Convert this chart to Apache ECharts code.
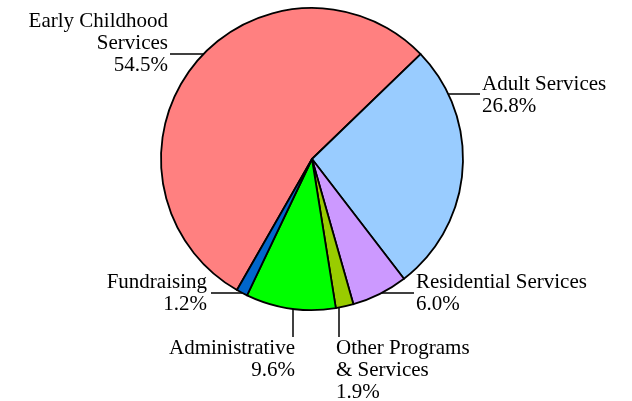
<!DOCTYPE html>
<html>
<head>
<meta charset="utf-8">
<script src="https://cdn.jsdelivr.net/npm/echarts@6/dist/echarts.min.js"></script>
<style>
  html, body { margin: 0; padding: 0; background: #fff; }
  #chart { width: 632px; height: 401px; }
</style>
</head>
<body>
<div id="chart"></div>
<script>
// data
const categories = ['Early Childhood\nServices', 'Adult Services', 'Residential Services',
  'Other Programs\n& Services', 'Administrative', 'Fundraising'];
const shares = [54.5, 26.8, 6.0, 1.9, 9.6, 1.2];
const colors = ['#FF8080', '#99CCFF', '#CC99FF', '#99CC00', '#00FF00', '#0066CC'];

// pie geometry
const cx = 312, cy = 159, r = 151;

// label placement: anchor x, middle y, align, line end, line direction
const labelSpots = [
  { x: 168, y: 43, align: 'right', end: [170, 54], dir: 'h' },
  { x: 482, y: 95, align: 'left', end: [480, 94], dir: 'h' },
  { x: 416, y: 293, align: 'left', end: [414, 293], dir: 'h' },
  { x: 336, y: 370, align: 'left', end: [339, 337], dir: 'v' },
  { x: 295, y: 359, align: 'right', end: [293, 337], dir: 'v' },
  { x: 207, y: 293, align: 'right', end: [211, 293], dir: 'h' }
];

// point on the pie rim that meets a straight leader line
function rimPoint(s) {
  if (s.dir === 'h') {
    const dy = s.end[1] - cy;
    const dx = Math.sqrt(r * r - dy * dy);
    return [s.end[0] < cx ? cx - dx : cx + dx, s.end[1]];
  }
  const dx = s.end[0] - cx;
  const dy = Math.sqrt(r * r - dx * dx);
  return [s.end[0], cy + dy];
}

const chart = echarts.init(document.getElementById('chart'));

const option = {
  animation: false,
  series: [{
    type: 'pie',
    center: [cx, cy],
    radius: r,
    startAngle: 240.2,
    clockwise: true,
    silent: true,
    itemStyle: { borderColor: '#000', borderWidth: 1.8 },
    label: {
      show: true,
      position: 'outside',
      fontFamily: 'Liberation Serif',
      fontSize: 21,
      lineHeight: 22,
      color: '#000',
      overflow: 'none',
      formatter: p => p.name + '\n' + p.value.toFixed(1) + '%'
    },
    labelLine: { show: true, lineStyle: { color: '#000', width: 1.5 } },
    labelLayout: p => {
      const s = labelSpots[p.dataIndex];
      const a = rimPoint(s);
      return {
        x: s.x,
        y: s.y,
        align: s.align,
        verticalAlign: 'middle',
        labelLinePoints: [a, s.end, s.end]
      };
    },
    data: categories.map((c, i) => ({
      name: c,
      value: shares[i],
      itemStyle: { color: colors[i] }
    }))
  }]
};

chart.setOption(option);
</script>
</body>
</html>
